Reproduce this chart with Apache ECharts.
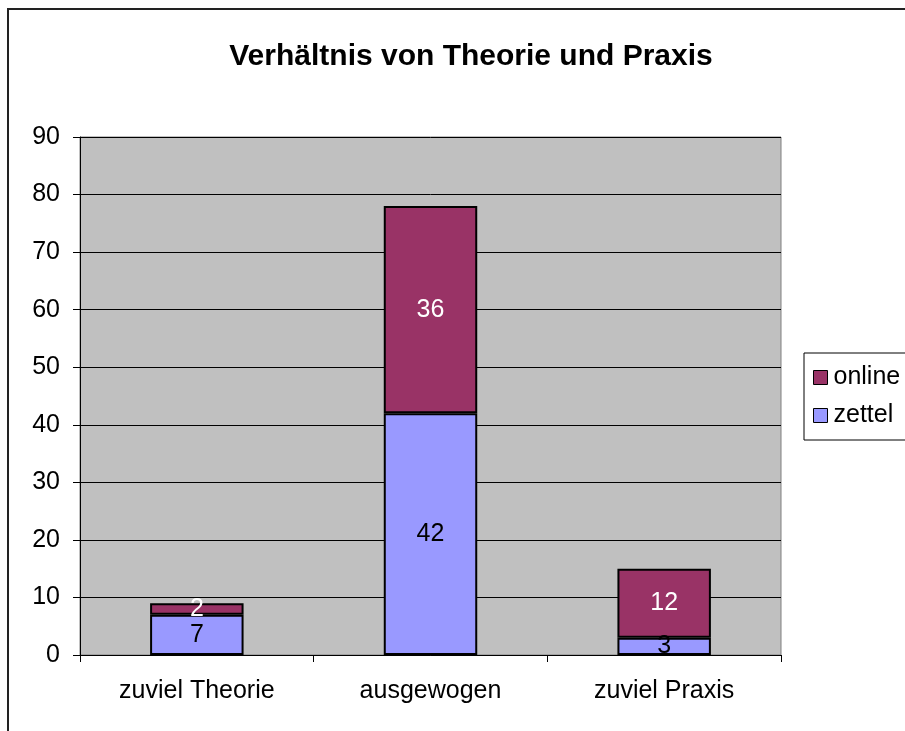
<!DOCTYPE html>
<html>
<head>
<meta charset="utf-8">
<script src="https://cdn.jsdelivr.net/npm/echarts@6/dist/echarts.min.js"></script>
<style>
  html, body { margin: 0; padding: 0; background: #fff; }
  #chart { width: 905px; height: 731px; }
</style>
</head>
<body>
<div id="chart"></div>
<script>
// Werte
const categories = ['zuviel Theorie', 'ausgewogen', 'zuviel Praxis'];
const zettel = [7, 42, 3];
const online = [2, 36, 12];
const yTicks = { min: 0, max: 90, interval: 10 };

const FONT = '"Liberation Sans", Arial, sans-serif';

const chart = echarts.init(document.getElementById('chart'), null, { renderer: 'canvas' });

chart.setOption({
  animation: false,
  backgroundColor: '#fff',
  textStyle: { fontFamily: FONT },
  title: {
    text: 'Verhältnis von Theorie und Praxis',
    left: 466,
    textAlign: 'center',
    top: 37,
    textStyle: { fontFamily: FONT, fontSize: 30, fontWeight: 'bold', color: '#000' }
  },
  legend: {
    orient: 'vertical',
    left: 804,
    top: 353,
    padding: [12, 40, 12, 9],
    itemGap: 13,
    itemWidth: 14,
    itemHeight: 14,
    borderColor: '#000',
    borderWidth: 1,
    icon: 'rect',
    data: ['online', 'zettel'],
    itemStyle: { borderColor: '#000', borderWidth: 1 },
    textStyle: { fontFamily: FONT, fontSize: 25, color: '#000', padding: [0, 0, 0, 1] }
  },
  grid: {
    left: 80,
    right: 124,
    top: 137,
    bottom: 76,
    show: true,
    backgroundColor: '#C0C0C0',
    borderColor: '#808080',
    borderWidth: 1
  },
  xAxis: {
    type: 'category',
    data: categories,
    axisLine: { lineStyle: { color: '#000', width: 1 } },
    axisTick: { show: true, length: 7, lineStyle: { color: '#000' } },
    axisLabel: { margin: 24, fontFamily: FONT, fontSize: 25, color: '#000' }
  },
  yAxis: {
    type: 'value',
    min: yTicks.min,
    max: yTicks.max,
    interval: yTicks.interval,
    axisLine: { show: true, lineStyle: { color: '#000', width: 1 } },
    axisTick: { show: true, length: 7, lineStyle: { color: '#000' } },
    axisLabel: { margin: 20, fontFamily: FONT, fontSize: 25, color: '#000' },
    splitLine: { show: true, lineStyle: { color: '#000', width: 1 } }
  },
  series: [
    {
      name: 'zettel',
      type: 'bar',
      stack: 'total',
      barWidth: '40%',
      data: zettel,
      itemStyle: { color: '#9999FF', borderColor: '#000', borderWidth: 2 },
      label: { show: true, position: 'inside', fontFamily: FONT, fontSize: 25, color: '#000' }
    },
    {
      name: 'online',
      type: 'bar',
      stack: 'total',
      barWidth: '40%',
      data: online,
      itemStyle: { color: '#993366', borderColor: '#000', borderWidth: 2 },
      label: { show: true, position: 'inside', fontFamily: FONT, fontSize: 25, color: '#fff' }
    }
  ],
  graphic: [
    {
      type: 'rect',
      silent: true,
      z: 100,
      shape: { x: 8, y: 9, width: 1000, height: 1000 },
      style: { fill: 'none', stroke: '#222', lineWidth: 2 }
    }
  ]
});

window.addEventListener('resize', () => chart.resize());
</script>
</body>
</html>
